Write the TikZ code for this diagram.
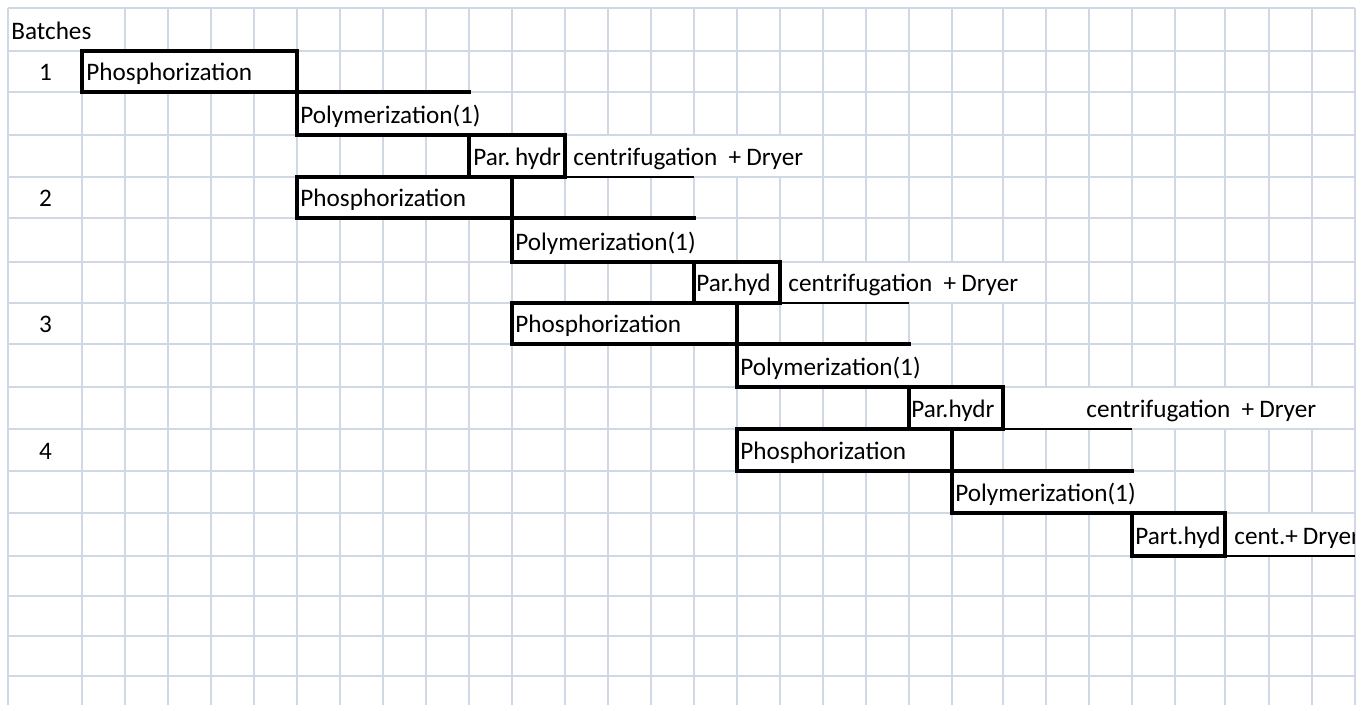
\documentclass[tikz,border=0pt]{standalone}
\usepackage{fontspec}
\setmainfont{Carlito}
\definecolor{gridc}{RGB}{208,215,229}
\begin{document}
\begin{tikzpicture}[x=0.5pt,y=-0.5pt,
  gridline/.style={draw=gridc,line width=0.75pt},
  barline/.style={draw=black,line width=1.6pt,line cap=rect},
  boxline/.style={draw=black,line width=1.6pt},
  underl/.style={draw=black,line width=1pt},
  lbl/.style={anchor=base west,inner sep=0pt,font=\fontsize{12.6}{15}\selectfont},
  num/.style={anchor=base,inner sep=0pt,font=\fontsize{12.6}{15}\selectfont}]
\useasboundingbox (0,0) rectangle (1370,711);
\fill[white] (0,0) rectangle (1370,711);
% spreadsheet grid
\foreach \x in {8,82,125,168,211,254,297,340,383,426,469,512,565,608,651,694,737,780,823,866,909,952,1003,1046,1089,1132,1175,1225,1269,1312,1355}
  \draw[gridline] (\x,8) -- (\x,705);
\foreach \y in {8,51,92,135,177,218,262,303,344,387,429,471,513,556,596,636,676}
  \draw[gridline] (8,\y) -- (1355,\y);
% cells covered by overflowing text
\foreach \xa/\xb/\ya/\yb in {8/125/8/51, 82/297/51/92, 297/512/92/135, 469/565/135/177, 565/823/135/177,
  297/512/177/218, 512/737/218/262, 694/780/262/303, 780/1046/262/303,
  512/737/303/344, 737/952/344/387, 909/1003/387/429, 1003/1355/387/429,
  737/952/429/471, 952/1175/471/513, 1132/1225/513/556, 1225/1355/513/556}
  \fill[white] ({\xa+1},{\ya+1}) rectangle ({\xb-1},{\yb-1});
% Gantt bars of the four batches
\foreach \a/\b/\c/\d/\e/\ra/\rb/\rc/\rd in {82/297/469/565/694/51/92/135/177,
  297/512/694/780/909/177/218/262/303,
  512/737/909/1003/1132/303/344/387/429,
  737/952/1132/1225/1355/429/471/513/556}
{
  \draw[boxline] (\a,\ra) rectangle (\b,\rb);
  \draw[barline] (\b,\rb) -- (\c,\rb);
  \draw[barline] (\b,\rb) -- (\b,\rc) -- (\d,\rc);
  \draw[boxline] (\c,\rc) rectangle (\d,\rd);
  \draw[underl] (\d,\rd) -- (\e,\rd);
}
% texts
\node[lbl] (batches) at (11,39.5) {Batches};
\node[num] (n1) at (45.5,80.5) {1};
\node[num] (n2) at (45.5,206.5) {2};
\node[num] (n3) at (45.5,332.5) {3};
\node[num] (n4) at (45.5,459.5) {4};
% batch 1
\node[lbl] (ph1) at (86,80.5) {Phosphorization};
\node[lbl] (po1) at (300,123.5) {Polymerization(1)};
\node[lbl] (pa1) at (473,165.5) {Par.\hspace{0.18em}hydr};
\node[lbl] (ce1) at (573,165.5) {centrifugation\ \ +\hspace{0.2em}Dryer};
% batch 2
\node[lbl] (ph2) at (300,206.5) {Phosphorization};
\node[lbl] (po2) at (515,250.5) {Polymerization(1)};
\node[lbl] (pa2) at (696,291.5) {Par.hyd};
\node[lbl] (ce2) at (788,291.5) {centrifugation\ \ +\hspace{0.2em}Dryer};
% batch 3
\node[lbl] (ph3) at (515,332.5) {Phosphorization};
\node[lbl] (po3) at (740,375.5) {Polymerization(1)};
\node[lbl] (pa3) at (911,417.5) {Par.hydr};
\node[lbl] (ce3) at (1086,417.5) {centrifugation\ \ +\hspace{0.2em}Dryer};
% batch 4
\node[lbl] (ph4) at (740,459.5) {Phosphorization};
\node[lbl] (po4) at (955,501.5) {Polymerization(1)};
\node[lbl] (pa4) at (1135,544.5) {Part.hyd};
\begin{scope}
  \clip (1226,515) rectangle (1354,555);
  \node[lbl] (ce4) at (1234,544.5) {cent.+\hspace{0.2em}Dryer};
\end{scope}
\end{tikzpicture}
\end{document}
